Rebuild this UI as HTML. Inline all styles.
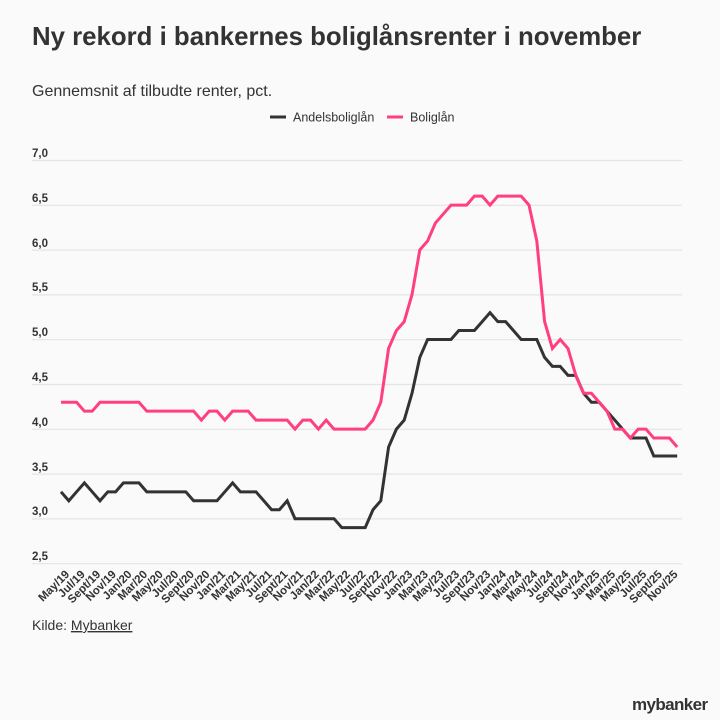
<!DOCTYPE html>
<html><head><meta charset="utf-8"><style>
html,body{margin:0;padding:0;background:#fafafa;}
svg{display:block;font-family:"Liberation Sans",sans-serif;}
</style></head><body>
<svg width="720" height="720" viewBox="0 0 720 720" xmlns="http://www.w3.org/2000/svg">
<rect width="720" height="720" fill="#fafafa"/>
<text x="32" y="45" font-size="25.8" font-weight="bold" fill="#333">Ny rekord i bankernes boliglånsrenter i november</text>
<text x="32" y="96" font-size="16" fill="#333">Gennemsnit af tilbudte renter, pct.</text>
<line x1="270" y1="117" x2="286" y2="117" stroke="#333" stroke-width="3"/>
<text x="293" y="121.5" font-size="12.5" fill="#333">Andelsboliglån</text>
<line x1="387" y1="117" x2="403" y2="117" stroke="#ff3f7f" stroke-width="3"/>
<text x="410" y="121.5" font-size="12.5" fill="#333">Boliglån</text>
<g stroke="#e4e4e4" stroke-width="1.2">
<line x1="32" x2="682" y1="160.5" y2="160.5"/><line x1="32" x2="682" y1="205.3" y2="205.3"/>
<line x1="32" x2="682" y1="250.1" y2="250.1"/><line x1="32" x2="682" y1="294.9" y2="294.9"/>
<line x1="32" x2="682" y1="339.7" y2="339.7"/><line x1="32" x2="682" y1="384.5" y2="384.5"/>
<line x1="32" x2="682" y1="429.3" y2="429.3"/><line x1="32" x2="682" y1="474.1" y2="474.1"/>
<line x1="32" x2="682" y1="518.9" y2="518.9"/><line x1="32" x2="682" y1="563.7" y2="563.7"/>
</g>
<g font-size="11.5" font-weight="bold" fill="#333">
<text x="32" y="157">7,0</text><text x="32" y="202">6,5</text><text x="32" y="247">6,0</text>
<text x="32" y="291">5,5</text><text x="32" y="336">5,0</text><text x="32" y="381">4,5</text>
<text x="32" y="426">4,0</text><text x="32" y="471">3,5</text><text x="32" y="515">3,0</text>
<text x="32" y="560">2,5</text>
</g>
<g transform="translate(61,787.5) scale(7.8,-89.6)" fill="none" stroke-linejoin="miter">
<polyline vector-effect="non-scaling-stroke" stroke="#333" stroke-width="3" points="0,3.3 1,3.2 2,3.3 3,3.4 4,3.3 5,3.2 6,3.3 7,3.3 8,3.4 9,3.4 10,3.4 11,3.3 16,3.3 17,3.2 20,3.2 21,3.3 22,3.4 23,3.3 25,3.3 26,3.2 27,3.1 28,3.1 29,3.2 30,3.0 35,3.0 36,2.9 39,2.9 40,3.1 41,3.2 42,3.8 43,4.0 44,4.1 45,4.4 46,4.8 47,5.0 50,5.0 51,5.1 53,5.1 54,5.2 55,5.3 56,5.2 57,5.2 58,5.1 59,5.0 61,5.0 62,4.8 63,4.7 64,4.7 65,4.6 66,4.6 67,4.4 68,4.3 69,4.3 70,4.2 71,4.1 72,4.0 73,3.9 75,3.9 76,3.7 79,3.7"/>
<polyline vector-effect="non-scaling-stroke" stroke="#ff3f7f" stroke-width="3" points="0,4.3 2,4.3 3,4.2 4,4.2 5,4.3 10,4.3 11,4.2 17,4.2 18,4.1 19,4.2 20,4.2 21,4.1 22,4.2 24,4.2 25,4.1 29,4.1 30,4.0 31,4.1 32,4.1 33,4.0 34,4.1 35,4.0 39,4.0 40,4.1 41,4.3 42,4.9 43,5.1 44,5.2 45,5.5 46,6.0 47,6.1 48,6.3 49,6.4 50,6.5 52,6.5 53,6.6 54,6.6 55,6.5 56,6.6 59,6.6 60,6.5 61,6.1 62,5.2 63,4.9 64,5.0 65,4.9 66,4.6 67,4.4 68,4.4 69,4.3 70,4.2 71,4.0 72,4.0 73,3.9 74,4.0 75,4.0 76,3.9 78,3.9 79,3.8"/>
</g>
<g font-size="11.5" font-weight="bold" fill="#333" text-anchor="end">
<text transform="translate(70,575) rotate(-45)">May/19</text>
<text transform="translate(85.6,575) rotate(-45)">Jul/19</text>
<text transform="translate(101.2,575) rotate(-45)">Sept/19</text>
<text transform="translate(116.8,575) rotate(-45)">Nov/19</text>
<text transform="translate(132.4,575) rotate(-45)">Jan/20</text>
<text transform="translate(148,575) rotate(-45)">Mar/20</text>
<text transform="translate(163.6,575) rotate(-45)">May/20</text>
<text transform="translate(179.2,575) rotate(-45)">Jul/20</text>
<text transform="translate(194.8,575) rotate(-45)">Sept/20</text>
<text transform="translate(210.4,575) rotate(-45)">Nov/20</text>
<text transform="translate(226,575) rotate(-45)">Jan/21</text>
<text transform="translate(241.6,575) rotate(-45)">Mar/21</text>
<text transform="translate(257.2,575) rotate(-45)">May/21</text>
<text transform="translate(272.8,575) rotate(-45)">Jul/21</text>
<text transform="translate(288.4,575) rotate(-45)">Sept/21</text>
<text transform="translate(304,575) rotate(-45)">Nov/21</text>
<text transform="translate(319.6,575) rotate(-45)">Jan/22</text>
<text transform="translate(335.2,575) rotate(-45)">Mar/22</text>
<text transform="translate(350.8,575) rotate(-45)">May/22</text>
<text transform="translate(366.4,575) rotate(-45)">Jul/22</text>
<text transform="translate(382,575) rotate(-45)">Sept/22</text>
<text transform="translate(397.6,575) rotate(-45)">Nov/22</text>
<text transform="translate(413.2,575) rotate(-45)">Jan/23</text>
<text transform="translate(428.8,575) rotate(-45)">Mar/23</text>
<text transform="translate(444.4,575) rotate(-45)">May/23</text>
<text transform="translate(460,575) rotate(-45)">Jul/23</text>
<text transform="translate(475.6,575) rotate(-45)">Sept/23</text>
<text transform="translate(491.2,575) rotate(-45)">Nov/23</text>
<text transform="translate(506.8,575) rotate(-45)">Jan/24</text>
<text transform="translate(522.4,575) rotate(-45)">Mar/24</text>
<text transform="translate(538,575) rotate(-45)">May/24</text>
<text transform="translate(553.6,575) rotate(-45)">Jul/24</text>
<text transform="translate(569.2,575) rotate(-45)">Sept/24</text>
<text transform="translate(584.8,575) rotate(-45)">Nov/24</text>
<text transform="translate(600.4,575) rotate(-45)">Jan/25</text>
<text transform="translate(616,575) rotate(-45)">Mar/25</text>
<text transform="translate(631.6,575) rotate(-45)">May/25</text>
<text transform="translate(647.2,575) rotate(-45)">Jul/25</text>
<text transform="translate(662.8,575) rotate(-45)">Sept/25</text>
<text transform="translate(678.4,575) rotate(-45)">Nov/25</text>
</g>
<text x="32" y="630" font-size="14" fill="#333">Kilde: <tspan text-decoration="underline">Mybanker</tspan></text>
<text x="632" y="710" font-size="17" font-weight="bold" fill="#333" letter-spacing="-0.6">mybanker</text>
</svg>
</body></html>
